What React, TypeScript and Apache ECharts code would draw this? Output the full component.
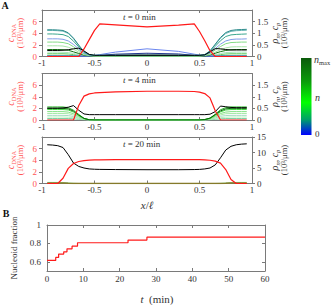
import React, { useEffect, useRef } from 'react';
import * as echarts from 'echarts';

// x positions (x / l) shared by all curves of panel A
const xPos = [-0.95, -0.9, -0.85, -0.8, -0.75, -0.7, -0.65, -0.6, -0.55, -0.5, -0.45, -0.3, 0, 0.3, 0.45, 0.5, 0.55, 0.6, 0.65, 0.7, 0.75, 0.8, 0.85, 0.9, 0.95];

// tick labels
const xTicks = [-1, -0.5, 0, 0.5, 1];
const leftTicks = [0, 2, 4, 6];
const rightTicksA = [0, 0.5, 1, 1.5];
const rightTicksA3 = [0, 5, 10, 15];
const tTicks = [0, 10, 20, 30, 40, 50, 60];
const fracTicks = [0.6, 0.8, 1];

// ---- t = 0 min ----
const dna0 = [0, 0, 0, 0, 0, 0, 0, 1.3, 2.9, 4.5, 5.6, 5.45, 5.1, 5.4, 5.6, 4.3, 2.7, 1.0, 0, 0, 0, 0, 0, 0, 0];
const cp0 = [0.26, 0.26, 0.26, 0.27, 0.29, 0.33, 0.36, 0.24, 0.09, 0.05, 0.05, 0.05, 0.05, 0.05, 0.05, 0.05, 0.07, 0.2, 0.34, 0.33, 0.3, 0.28, 0.28, 0.28, 0.28];
const rho0_a = [1.15, 1.15, 1.14, 1.12, 1.02, 0.79, 0.49, 0.21, 0.08, 0.05, 0.05, 0.05, 0.05, 0.05, 0.05, 0.05, 0.08, 0.24, 0.53, 0.82, 1.03, 1.12, 1.15, 1.16, 1.17];
const rho0_b = [1.12, 1.12, 1.11, 1.09, 0.99, 0.77, 0.47, 0.2, 0.08, 0.05, 0.05, 0.05, 0.05, 0.05, 0.05, 0.05, 0.08, 0.23, 0.51, 0.79, 0.99, 1.08, 1.11, 1.12, 1.13];
const rho0_c = [0.97, 0.97, 0.96, 0.94, 0.86, 0.66, 0.41, 0.18, 0.07, 0.04, 0.04, 0.04, 0.04, 0.04, 0.04, 0.04, 0.07, 0.2, 0.44, 0.68, 0.86, 0.93, 0.95, 0.96, 0.97];
const rho0_d = [0.76, 0.76, 0.76, 0.74, 0.67, 0.52, 0.32, 0.14, 0.06, 0.04, 0.04, 0.04, 0.04, 0.04, 0.04, 0.04, 0.06, 0.16, 0.34, 0.53, 0.67, 0.73, 0.75, 0.75, 0.76];
const rho0_e = [0.62, 0.62, 0.62, 0.6, 0.55, 0.42, 0.26, 0.11, 0.05, 0.03, 0.03, 0.03, 0.03, 0.03, 0.03, 0.03, 0.05, 0.13, 0.28, 0.43, 0.55, 0.6, 0.61, 0.62, 0.62];
const rho0_f = [0.46, 0.46, 0.46, 0.45, 0.4, 0.31, 0.19, 0.08, 0.04, 0.02, 0.02, 0.02, 0.02, 0.02, 0.02, 0.02, 0.04, 0.09, 0.19, 0.29, 0.37, 0.41, 0.42, 0.42, 0.42];
const rho0_g = [0.3, 0.3, 0.3, 0.29, 0.27, 0.2, 0.13, 0.06, 0.03, 0.02, 0.02, 0.02, 0.02, 0.02, 0.02, 0.02, 0.03, 0.07, 0.14, 0.21, 0.26, 0.29, 0.3, 0.3, 0.3];
const rho0_h = [0.19, 0.19, 0.19, 0.18, 0.17, 0.13, 0.08, 0.04, 0.02, 0.01, 0.01, 0.01, 0.01, 0.01, 0.01, 0.01, 0.02, 0.04, 0.08, 0.13, 0.17, 0.18, 0.19, 0.19, 0.19];
const rho0_i = [0.12, 0.12, 0.12, 0.12, 0.11, 0.08, 0.05, 0.02, 0.01, 0.01, 0.01, 0.01, 0.01, 0.01, 0.01, 0.01, 0.01, 0.02, 0.05, 0.08, 0.11, 0.12, 0.12, 0.12, 0.12];
const rho0_j = [0.05, 0.05, 0.05, 0.05, 0.05, 0.04, 0.03, 0.01, 0.01, 0.01, 0.01, 0.01, 0.01, 0.01, 0.01, 0.01, 0.01, 0.01, 0.03, 0.04, 0.05, 0.05, 0.05, 0.05, 0.05];
const rho0_k = [0.02, 0.02, 0.02, 0.02, 0.02, 0.02, 0.02, 0.02, 0.03, 0.05, 0.08, 0.19, 0.33, 0.22, 0.1, 0.06, 0.04, 0.02, 0.02, 0.02, 0.02, 0.02, 0.02, 0.02, 0.02];
const rho0_l = [0.01, 0.01, 0.01, 0.01, 0.01, 0.01, 0.01, 0.01, 0.02, 0.03, 0.05, 0.1, 0.14, 0.11, 0.05, 0.03, 0.02, 0.01, 0.01, 0.01, 0.01, 0.01, 0.01, 0.01, 0.01];
const rho0_m = [0.01, 0.01, 0.01, 0.01, 0.01, 0.01, 0.01, 0.01, 0.01, 0.02, 0.04, 0.07, 0.09, 0.07, 0.04, 0.02, 0.01, 0.01, 0.01, 0.01, 0.01, 0.01, 0.01, 0.01, 0.01];

// ---- t = 4 min ----
const dna4 = [0, 0, 0, 0, 0, 0, 2.5, 4.1, 4.5, 4.65, 4.72, 4.85, 4.95, 4.95, 4.9, 4.8, 4.55, 3.8, 1.6, 0, 0, 0, 0, 0, 0];
const cp4 = [0.51, 0.51, 0.51, 0.52, 0.55, 0.62, 0.42, 0.26, 0.23, 0.23, 0.23, 0.23, 0.23, 0.23, 0.23, 0.23, 0.23, 0.25, 0.36, 0.6, 0.57, 0.54, 0.53, 0.53, 0.53];
const rho4_a = [0.56, 0.56, 0.56, 0.56, 0.53, 0.42, 0.24, 0.07, 0.01, 0, 0, 0, 0, 0, 0, 0, 0.02, 0.08, 0.25, 0.44, 0.53, 0.56, 0.56, 0.56, 0.56];
const rho4_b = [0.5, 0.5, 0.5, 0.5, 0.48, 0.38, 0.21, 0.07, 0.01, 0, 0, 0, 0, 0, 0, 0, 0.02, 0.08, 0.23, 0.39, 0.48, 0.5, 0.5, 0.5, 0.5];
const rho4_c = [0.45, 0.45, 0.45, 0.45, 0.43, 0.34, 0.19, 0.06, 0.01, 0, 0, 0, 0, 0, 0, 0, 0.01, 0.07, 0.2, 0.35, 0.43, 0.45, 0.45, 0.45, 0.45];
const rho4_d = [0.36, 0.36, 0.36, 0.36, 0.34, 0.27, 0.15, 0.05, 0.01, 0, 0, 0, 0, 0, 0, 0, 0.01, 0.05, 0.16, 0.28, 0.34, 0.36, 0.36, 0.36, 0.36];
const rho4_e = [0.28, 0.28, 0.28, 0.28, 0.27, 0.21, 0.12, 0.04, 0.01, 0, 0, 0, 0, 0, 0, 0, 0.01, 0.04, 0.13, 0.22, 0.27, 0.28, 0.28, 0.28, 0.28];
const rho4_f = [0.2, 0.2, 0.2, 0.2, 0.19, 0.15, 0.08, 0.03, 0, 0, 0, 0, 0, 0, 0, 0, 0.01, 0.03, 0.09, 0.16, 0.19, 0.2, 0.2, 0.2, 0.2];
const rho4_g = [0.13, 0.13, 0.13, 0.13, 0.12, 0.1, 0.05, 0.02, 0, 0, 0, 0, 0, 0, 0, 0, 0, 0.02, 0.06, 0.1, 0.12, 0.13, 0.13, 0.13, 0.13];
const rho4_h = [0.06, 0.06, 0.06, 0.06, 0.06, 0.05, 0.03, 0.01, 0, 0, 0, 0, 0, 0, 0, 0, 0, 0.01, 0.03, 0.05, 0.06, 0.06, 0.06, 0.06, 0.06];

// ---- t = 20 min ----
const dna20 = [0, 0, 0, 0.9, 2.6, 3.45, 3.78, 3.95, 4.02, 4.06, 4.08, 4.1, 4.1, 4.1, 4.1, 4.1, 4.08, 4.0, 3.85, 3.5, 2.4, 0.7, 0, 0, 0];
const cp20 = [12.5, 12.4, 12.2, 11.6, 9.3, 6.6, 5.5, 5.0, 4.7, 4.6, 4.55, 4.5, 4.45, 4.45, 4.5, 4.55, 4.7, 5.0, 6.0, 8.3, 10.8, 12.0, 12.5, 12.7, 12.8];
const rho20_a = [0.2, 0.2, 0.2, 0.18, 0.1, 0.03, 0, 0, 0, 0, 0, 0, 0, 0, 0, 0, 0, 0, 0, 0.02, 0.08, 0.17, 0.2, 0.2, 0.2];
const rho20_b = [0.35, 0.35, 0.35, 0.33, 0.22, 0.08, 0.01, 0, 0, 0, 0, 0, 0, 0, 0, 0, 0, 0, 0.01, 0.06, 0.2, 0.32, 0.35, 0.35, 0.35];

// ---- panel B ----
const tMin = [0, 2.4, 3.2, 4.6, 5.5, 6.9, 8.4, 22.3, 27.5, 60];
const nucleoidFrac = [0.615, 0.648, 0.684, 0.708, 0.741, 0.77, 0.807, 0.836, 0.868, 0.868];

const SERIF = "'Liberation Serif', 'DejaVu Serif', serif";
const RED = '#ff1a1a';
const RED_LABEL = '#ff5555';
const FRAME = '#7a7a7a';
const TXT = '#333333';

export default function App() {
  const ref = useRef<HTMLDivElement>(null);
  useEffect(() => {
    const chart = echarts.init(ref.current!, null, { renderer: 'svg' });
    const pairs = (ys: number[]) => ys.map((y, i) => [xPos[i], y]);

    const gridsA = [10, 73.5, 137];
    const grids: any[] = gridsA.map((top) => ({ left: 42, width: 210, top, height: 46.5 }));
    grids.push({ left: 47, width: 218, top: 225, height: 46 });

    const xAxes: any[] = [];
    const yAxes: any[] = [];
    const frameLine = { show: true, onZero: false, lineStyle: { color: FRAME, width: 1 } };
    gridsA.forEach((_, gi) => {
      xAxes.push({
        type: 'value', gridIndex: gi, min: -1, max: 1, position: 'bottom',
        axisLine: frameLine,
        axisTick: { show: true, inside: true, length: 3, customValues: xTicks, lineStyle: { color: FRAME } },
        axisLabel: { show: true, customValues: xTicks, margin: 2, color: TXT, fontSize: 9, fontFamily: SERIF },
        splitLine: { show: false },
      });
      xAxes.push({
        type: 'value', gridIndex: gi, min: -1, max: 1, position: 'top',
        axisLine: frameLine,
        axisTick: { show: true, inside: true, length: 3, customValues: xTicks, lineStyle: { color: FRAME } },
        axisLabel: { show: false },
        splitLine: { show: false },
      });
      yAxes.push({
        type: 'value', gridIndex: gi, min: 0, max: 8, position: 'left',
        axisLine: frameLine,
        axisTick: { show: true, inside: false, length: 3, customValues: leftTicks, lineStyle: { color: FRAME } },
        axisLabel: { show: true, customValues: leftTicks, margin: 5, color: RED_LABEL, fontSize: 9, fontFamily: SERIF },
        splitLine: { show: false },
      });
      const rt = gi === 2 ? rightTicksA3 : rightTicksA;
      yAxes.push({
        type: 'value', gridIndex: gi, min: 0, max: gi === 2 ? 15 : 2, position: 'right',
        axisLine: frameLine,
        axisTick: { show: true, inside: false, length: 3, customValues: rt, lineStyle: { color: FRAME } },
        axisLabel: { show: true, customValues: rt, margin: 5, color: TXT, fontSize: 9, fontFamily: SERIF },
        splitLine: { show: false },
      });
    });
    // panel B axes
    xAxes.push({
      type: 'value', gridIndex: 3, min: 0, max: 60, position: 'bottom',
      axisLine: frameLine,
      axisTick: { show: true, inside: true, length: 3, customValues: tTicks, lineStyle: { color: FRAME } },
      axisLabel: { show: true, customValues: tTicks, margin: 3, color: TXT, fontSize: 9, fontFamily: SERIF },
      splitLine: { show: false },
    });
    xAxes.push({
      type: 'value', gridIndex: 3, min: 0, max: 60, position: 'top',
      axisLine: frameLine,
      axisTick: { show: true, inside: true, length: 3, customValues: tTicks, lineStyle: { color: FRAME } },
      axisLabel: { show: false },
      splitLine: { show: false },
    });
    yAxes.push({
      type: 'value', gridIndex: 3, min: 0.5, max: 1, position: 'left',
      axisLine: frameLine,
      axisTick: { show: true, inside: true, length: 3, customValues: fracTicks, lineStyle: { color: FRAME } },
      axisLabel: { show: true, customValues: fracTicks, margin: 6, color: TXT, fontSize: 9, fontFamily: SERIF },
      splitLine: { show: false },
    });
    yAxes.push({
      type: 'value', gridIndex: 3, min: 0.5, max: 1, position: 'right',
      axisLine: frameLine,
      axisTick: { show: true, inside: true, length: 3, customValues: fracTicks, lineStyle: { color: FRAME } },
      axisLabel: { show: false },
      splitLine: { show: false },
    });

    const line = (gi: number, right: boolean, ys: number[], color: string, width = 1) => ({
      type: 'line', xAxisIndex: gi * 2, yAxisIndex: gi * 2 + (right ? 1 : 0),
      data: pairs(ys), symbol: 'none', showSymbol: false, silent: true,
      lineStyle: { color, width }, emphasis: { disabled: true },
    });

    const series: any[] = [
      // t = 0
      line(0, true, rho0_j, '#3cbf3c'),
      line(0, true, rho0_i, '#66d066'),
      line(0, true, rho0_h, '#a6e4bb'),
      line(0, true, rho0_m, '#8aa0a0'),
      line(0, true, rho0_l, '#22358f'),
      line(0, true, rho0_k, '#6b86ef'),
      line(0, true, rho0_g, '#106f10'),
      line(0, true, rho0_f, '#a7e6a7'),
      line(0, true, rho0_e, '#84dc84'),
      line(0, true, rho0_d, '#7f9be8'),
      line(0, true, rho0_c, '#3aa68e'),
      line(0, true, rho0_b, '#66b5b5'),
      line(0, true, rho0_a, '#2e8b8b'),
      line(0, true, cp0, '#000000'),
      line(0, false, dna0, RED, 1.2),
      // t = 4
      line(1, true, rho4_h, '#6fcf9c'),
      line(1, true, rho4_g, '#bdf0bd'),
      line(1, true, rho4_f, '#a3dcc3'),
      line(1, true, rho4_e, '#a8eaa8'),
      line(1, true, rho4_d, '#7fe07f'),
      line(1, true, rho4_c, '#44d844'),
      line(1, true, rho4_a, '#1fb51f'),
      line(1, true, rho4_b, '#0a640a'),
      line(1, true, cp4, '#000000'),
      line(1, false, dna4, RED, 1.2),
      // t = 20
      line(2, true, rho20_b, '#9ee09e'),
      line(2, true, rho20_a, '#857a2a', 1.5),
      line(2, true, cp20, '#000000'),
      line(2, false, dna20, RED, 1.2),
      // panel B
      {
        type: 'line', xAxisIndex: 6, yAxisIndex: 6, step: 'end',
        data: tMin.map((t, i) => [t, nucleoidFrac[i]]),
        symbol: 'none', showSymbol: false, silent: true,
        lineStyle: { color: RED, width: 1.2 },
      },
    ];

    const txt = (x: number, y: number, text: string, opts: any = {}) => ({
      type: 'text', x, y, rotation: opts.rotation || 0, silent: true,
      style: {
        text, fill: opts.fill || TXT, fontSize: opts.fontSize || 9, fontFamily: SERIF,
        fontStyle: opts.fontStyle || 'normal', fontWeight: opts.fontWeight || 'normal',
        align: opts.align || 'center', verticalAlign: 'middle', rich: opts.rich,
      },
    });

    const richSub = (fill: string, size = 10) => ({
      i: { fontStyle: 'italic', fontSize: size, fontFamily: SERIF, fill, lineHeight: 13, verticalAlign: 'middle' },
      r: { fontSize: size, fontFamily: SERIF, fill, lineHeight: 13, verticalAlign: 'middle' },
      s: { fontSize: 6.5, fontFamily: SERIF, fill, lineHeight: 13, verticalAlign: 'bottom' },
      si: { fontSize: 6.5, fontStyle: 'italic', fontFamily: SERIF, fill, lineHeight: 13, verticalAlign: 'bottom' },
    });

    const graphic: any[] = [
      txt(5, 5, 'A', { fontWeight: 'bold', fontSize: 10, fill: '#111' }),
      txt(6, 213, 'B', { fontWeight: 'bold', fontSize: 10, fill: '#111' }),
      txt(123, 16.5, '{i|t} = 0 min', { align: 'left', rich: richSub(TXT, 9) }),
      txt(123, 80, '{i|t} = 4 min', { align: 'left', rich: richSub(TXT, 9) }),
      txt(123, 143.5, '{i|t} = 20 min', { align: 'left', rich: richSub(TXT, 9) }),
      txt(147, 205, '{i|x}{r|/}{i|ℓ}', { rich: richSub(TXT, 11) }),
      txt(157, 299, '{i|t}{r|  (min)}', { rich: richSub(TXT, 11) }),
      txt(14, 248, 'Nucleoid fraction', { rotation: Math.PI / 2, fontSize: 9 }),
    ];
    gridsA.forEach((top) => {
      const cy = top + 23;
      graphic.push(txt(10, cy, '{i|c}{s|DNA}', { rotation: Math.PI / 2, rich: richSub(RED_LABEL, 10) }));
      graphic.push(txt(20, cy, '(10³/μm)', { rotation: Math.PI / 2, fill: RED_LABEL, fontSize: 8.5 }));
      graphic.push(txt(274, cy, '{i|ρ}{si|n}{r|, }{i|c}{si|p}', { rotation: Math.PI / 2, rich: richSub(TXT, 10) }));
      graphic.push(txt(284, cy, '(10³/μm)', { rotation: Math.PI / 2, fill: TXT, fontSize: 8.5 }));
    });
    // colorbar
    graphic.push({
      type: 'rect', silent: true,
      shape: { x: 301, y: 58, width: 10.5, height: 77 },
      style: {
        fill: new echarts.graphic.LinearGradient(0, 0, 0, 1, [
          { offset: 0, color: '#0b5a0b' },
          { offset: 0.3, color: '#0b9a0b' },
          { offset: 0.58, color: '#00ff00' },
          { offset: 0.8, color: '#00a06a' },
          { offset: 1, color: '#0000ff' },
        ]),
        stroke: null,
      },
    });
    graphic.push(txt(314, 59, '{i|n}{s|max}', { align: 'left', rich: richSub(TXT, 10) }));
    graphic.push(txt(315, 97, '{i|n}', { align: 'left', rich: richSub(TXT, 10) }));
    graphic.push(txt(315, 134, '0', { align: 'left', fontSize: 9 }));

    chart.setOption({
      animation: false,
      backgroundColor: '#ffffff',
      grid: grids,
      xAxis: xAxes,
      yAxis: yAxes,
      series,
      graphic,
    });
    return () => chart.dispose();
  }, []);
  return <div ref={ref} style={{ position: 'absolute', left: 0, top: 0, width: 336, height: 305 }} />;
}
